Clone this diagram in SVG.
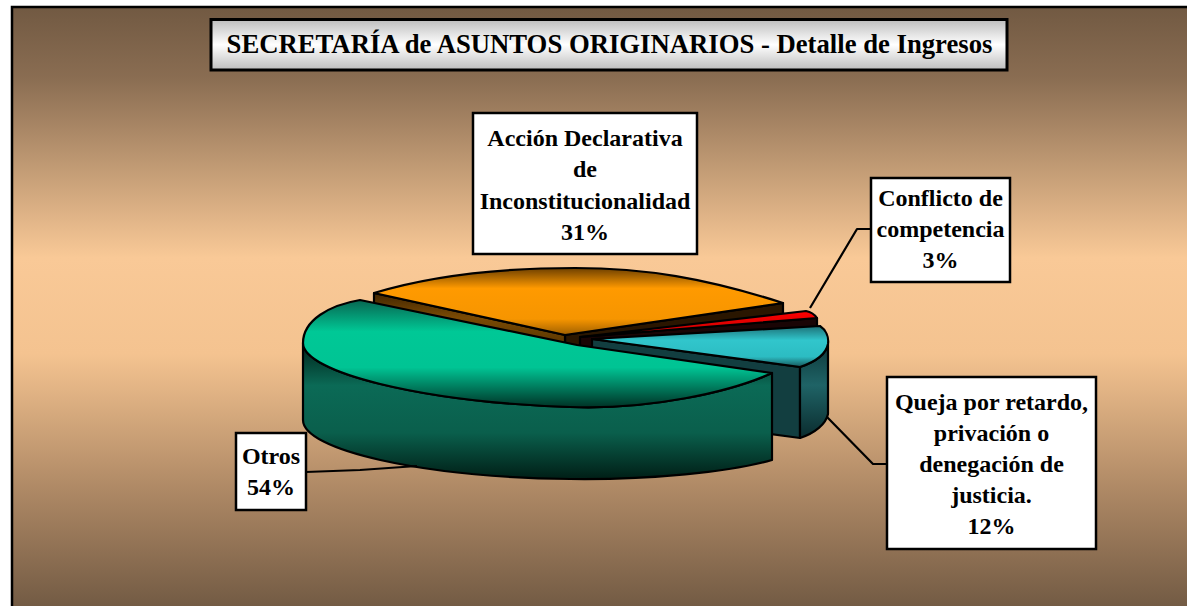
<svg xmlns="http://www.w3.org/2000/svg" width="1187" height="606" viewBox="0 0 1187 606">
<defs>
<linearGradient id="bg" gradientUnits="userSpaceOnUse" x1="0" y1="6" x2="0" y2="606">
<stop offset="0" stop-color="#715942"/>
<stop offset="0.12" stop-color="#8a6d52"/>
<stop offset="0.42" stop-color="#f9c997"/>
<stop offset="0.58" stop-color="#f4c390"/>
<stop offset="0.8" stop-color="#b08a66"/>
<stop offset="1" stop-color="#735b44"/>
</linearGradient>
<linearGradient id="titleFill" x1="0" y1="0" x2="0" y2="1">
<stop offset="0" stop-color="#bdbdbd"/>
<stop offset="0.5" stop-color="#ffffff"/>
<stop offset="1" stop-color="#bdbdbd"/>
</linearGradient>
<linearGradient id="gTop" gradientUnits="userSpaceOnUse" x1="0" y1="298" x2="0" y2="410">
<stop offset="0" stop-color="#08604c"/>
<stop offset="0.3" stop-color="#00c896"/>
<stop offset="0.62" stop-color="#00c494"/>
<stop offset="1" stop-color="#00281e"/>
</linearGradient>
<linearGradient id="gWall" gradientUnits="userSpaceOnUse" x1="0" y1="345" x2="0" y2="480">
<stop offset="0" stop-color="#00261c"/>
<stop offset="0.3" stop-color="#0b6a56"/>
<stop offset="0.65" stop-color="#0a5f4c"/>
<stop offset="1" stop-color="#001d15"/>
</linearGradient>
<linearGradient id="oTop" gradientUnits="userSpaceOnUse" x1="0" y1="268" x2="0" y2="336">
<stop offset="0" stop-color="#6e4000"/>
<stop offset="0.3" stop-color="#ff9a00"/>
<stop offset="0.75" stop-color="#f69500"/>
<stop offset="1" stop-color="#9a5c00"/>
</linearGradient>
<linearGradient id="oWall" gradientUnits="userSpaceOnUse" x1="0" y1="290" x2="0" y2="345">
<stop offset="0" stop-color="#3a2100"/>
<stop offset="0.5" stop-color="#7a4a04"/>
<stop offset="1" stop-color="#5a3600"/>
</linearGradient>
<linearGradient id="rTop" gradientUnits="userSpaceOnUse" x1="0" y1="311" x2="0" y2="337">
<stop offset="0" stop-color="#ff0000"/>
<stop offset="1" stop-color="#c00000"/>
</linearGradient>
<linearGradient id="cTop" gradientUnits="userSpaceOnUse" x1="0" y1="326" x2="0" y2="367">
<stop offset="0" stop-color="#1d7076"/>
<stop offset="0.35" stop-color="#31c6cc"/>
<stop offset="0.75" stop-color="#2cbcc2"/>
<stop offset="1" stop-color="#16565a"/>
</linearGradient>
<linearGradient id="cWall" gradientUnits="userSpaceOnUse" x1="0" y1="340" x2="0" y2="440">
<stop offset="0" stop-color="#0c3436"/>
<stop offset="0.45" stop-color="#1f6366"/>
<stop offset="1" stop-color="#0a2a2c"/>
</linearGradient>
<style>
.pie{stroke:#000;stroke-width:2.2;stroke-linejoin:round}
.box{fill:#fff;stroke:#000;stroke-width:2.5}
.lbl{font-family:"Liberation Serif","Times New Roman",serif;font-weight:bold;font-size:24px;fill:#000;text-anchor:middle}
.lead{fill:none;stroke:#000;stroke-width:2.2;stroke-linejoin:round}
</style>
</defs>

<g id="background">
<rect x="0" y="0" width="1187" height="606" fill="#ffffff"/>
<rect x="12" y="7" width="1200" height="620" fill="url(#bg)" stroke="#000" stroke-width="2.5"/>
</g>

<g id="title">
<rect x="211" y="19.5" width="796" height="50.5" fill="url(#titleFill)" stroke="#000" stroke-width="3"/>
<text x="609.5" y="53" class="lbl" style="font-size:26.7px">SECRETARÍA de ASUNTOS ORIGINARIOS - Detalle de Ingresos</text>
</g>

<g id="pie">
<g id="slice-accion">
<path class="pie" fill="#2a1600" d="M565,335 L783,303 L783,374 L565,406 Z"/>
<path class="pie" fill="url(#oWall)" d="M374,293 L565,335 L565,405 L374,363 Z"/>
<path class="pie" fill="url(#oTop)" d="M565,335 L374,293 C430,276 500,268 575,268 C645,268 705,278 783,303 Z"/>
</g>
<g id="slice-conflicto">
<path class="pie" fill="#1a0505" d="M580,337 L817,318 L817,390 L580,408 Z"/>
<path class="pie" fill="url(#rTop)" d="M580,337 L806,311 C811,312 815,315 817,318 Z"/>
</g>
<g id="slice-queja">
<path class="pie" fill="#123e40" d="M592,339 L800,367 L800,438 L592,410 Z"/>
<path class="pie" fill="url(#cWall)" d="M828,344 C826,354 815,362 800,367 L800,438 C815,433 826,424 828,414 Z"/>
<path class="pie" fill="url(#cTop)" d="M592,339 L820,326 C826,330 829,337 828,344 C826,354 815,362 800,367 Z"/>
</g>
<g id="slice-otros">
<path class="pie" fill="url(#gWall)" d="M303,343 C303,372 420,402 570,407 C650,410 730,392 772,373 L772,460 C730,472 650,480 570,479 C420,477 303,450 303,420 Z"/>
<path class="pie" fill="url(#gTop)" d="M577,345 L360,300 C330,305 303,320 303,343 C303,372 420,402 570,407 C650,410 730,392 772,373 Z"/>
</g>
</g>

<g id="connectors">
<path class="lead" d="M871,229 L857,229 L810,308"/>
<path class="lead" d="M887,464 L873,464 L827,417"/>
<path class="lead" d="M306,472 L360,470 L417,466"/>
</g>

<g id="label-accion">
<rect class="box" x="473" y="113" width="224" height="141"/>
<text class="lbl" x="585" y="146">Acción Declarativa</text>
<text class="lbl" x="585" y="177">de</text>
<text class="lbl" x="585" y="209">Inconstitucionalidad</text>
<text class="lbl" x="585" y="240">31%</text>
</g>

<g id="label-conflicto">
<rect class="box" x="871" y="178" width="139" height="104"/>
<text class="lbl" x="940.5" y="206">Conflicto de</text>
<text class="lbl" x="940.5" y="237">competencia</text>
<text class="lbl" x="940.5" y="268">3%</text>
</g>

<g id="label-queja">
<rect class="box" x="887" y="377" width="209" height="172"/>
<text class="lbl" x="991.5" y="410">Queja por retardo,</text>
<text class="lbl" x="991.5" y="441">privación o</text>
<text class="lbl" x="991.5" y="472">denegación de</text>
<text class="lbl" x="991.5" y="503">justicia.</text>
<text class="lbl" x="991.5" y="534">12%</text>
</g>

<g id="label-otros">
<rect class="box" x="236" y="433" width="70" height="77"/>
<text class="lbl" x="271" y="464">Otros</text>
<text class="lbl" x="271" y="495">54%</text>
</g>
</svg>
